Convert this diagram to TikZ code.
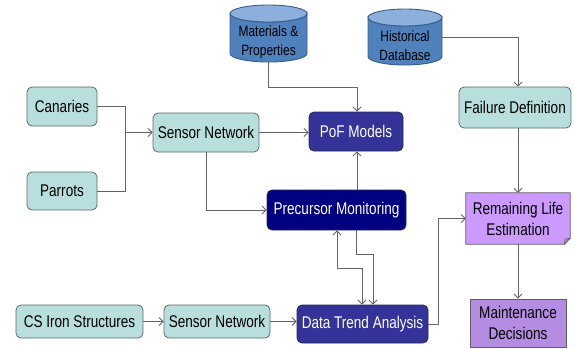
\documentclass[tikz,border=0pt]{standalone}
\usepackage{fontspec}
\setmainfont{Liberation Sans}[FakeStretch=0.8]
\usetikzlibrary{arrows.meta,backgrounds}

\definecolor{boxteal}{RGB}{184,222,222}
\definecolor{boxedge}{RGB}{95,105,105}
\definecolor{pofblue}{RGB}{51,51,153}
\definecolor{precnavy}{RGB}{0,0,128}
\definecolor{bluedge}{RGB}{40,40,90}
\definecolor{rlefill}{RGB}{204,153,255}
\definecolor{mdfill}{RGB}{180,140,225}
\definecolor{purpedge}{RGB}{100,90,110}
\definecolor{cylbody}{RGB}{79,129,189}
\definecolor{cyltop}{RGB}{140,175,220}
\definecolor{cyledge}{RGB}{56,93,138}
\definecolor{linegray}{RGB}{100,100,100}

% database drum: left, right, top, bottom, end-ellipse half height
\newcommand{\drum}[5]{%
  \pgfmathsetmacro{\drx}{(#2-#1)/2}%
  \pgfmathsetmacro{\dcx}{(#2+#1)/2}%
  \path[draw=cyledge, fill=cylbody, line width=0.9bp]
    (#1,#3+#5) -- (#1,#4-#5)
    arc[start angle=180, end angle=0, x radius=\drx, y radius=#5]
    -- (#2,#3+#5)
    arc[start angle=0, end angle=180, x radius=\drx, y radius=#5] -- cycle;
  \path[draw=cyledge, fill=cyltop, line width=0.9bp]
    (\dcx,#3+#5) ellipse[x radius=\drx, y radius=#5];
}

\begin{document}
\begin{tikzpicture}[x=1bp, y=-1bp,
  every node/.style={font=\fontsize{17}{21}\selectfont, inner sep=0pt, align=center},
  lightbox/.style={draw=boxedge, fill=boxteal, rounded corners=5bp, line width=0.8bp},
  bluebox/.style={draw=bluedge, fill=pofblue, text=white, rounded corners=5bp, line width=0.8bp},
  navybox/.style={draw=bluedge, fill=precnavy, text=white, rounded corners=5bp, line width=0.8bp},
  drumtext/.style={font=\fontsize{15}{19}\selectfont},
  conn/.style={draw=linegray, line width=0.9bp},
  arr/.style={conn, -{Straight Barb[length=4bp,width=8bp]}},
  biarr/.style={conn, {Straight Barb[length=4bp,width=8bp]}-{Straight Barb[length=4bp,width=8bp]}},
]
\useasboundingbox (0,0) rectangle (575,348);

% data sources
\drum{230}{307}{5}{62}{8.5}
\drum{368}{442}{9}{65}{8.5}
\node[drumtext, minimum width=77bp, minimum height=39bp] (mat) at (268.5,42.5) {Materials \&\\Properties};
\node[drumtext, minimum width=74bp, minimum height=39bp] (hist) at (405,45.5) {Historical\\Database};
\coordinate (hout) at (442,37);

% upper sensing chain
\node[lightbox, minimum width=70bp, minimum height=39bp] (can) at (62,106.5) {Canaries};
\node[lightbox, minimum width=70bp, minimum height=38bp] (par) at (62,191) {Parrots};
\node[lightbox, minimum width=106bp, minimum height=39bp] (sn1) at (206,132.5) {Sensor Network};
\node[bluebox, minimum width=94bp, minimum height=39bp] (pof) at (356,131.5) {PoF Models};
\node[navybox, minimum width=139bp, minimum height=40bp] (prec) at (336.5,210) {Precursor Monitoring};

% lower sensing chain
\node[lightbox, minimum width=127bp, minimum height=33bp] (cs) at (79.5,321.5) {CS Iron Structures};
\node[lightbox, minimum width=106bp, minimum height=33bp] (sn2) at (217,321.5) {Sensor Network};
\node[bluebox, minimum width=131bp, minimum height=38bp] (dta) at (362.5,324) {Data Trend Analysis};

% prognostics column
\node[lightbox, minimum width=112bp, minimum height=41bp] (fd) at (515,107.5) {Failure Definition};
\node[minimum width=104bp, minimum height=51bp] (rle) at (518,218.5) {Remaining Life\\Estimation};
\node[draw=purpedge, fill=mdfill, line width=0.8bp, minimum width=96bp, minimum height=48bp] (md) at (518,323) {Maintenance\\Decisions};
\begin{scope}[on background layer]
  \path[draw=purpedge, fill=rlefill, line width=0.8bp]
    (rle.north west) -- (rle.north east) -- ([yshift=6bp]rle.south east)
    -- ([xshift=-6bp]rle.south east) -- (rle.south west) -- cycle;
  \path[draw=purpedge, fill=purpedge!60, line width=0.6bp]
    ([yshift=6bp]rle.south east) -- ([xshift=-6bp]rle.south east)
    -- ([xshift=-5bp,yshift=5bp]rle.south east) -- cycle;
\end{scope}

% connectors
\coordinate (j1) at (125,132.5);
\draw[conn] (can.east) -| (j1);
\draw[conn] (par.east) -| (j1);
\draw[arr] (j1) -- (sn1.west);
\draw[arr] (sn1.east) -- (pof.west |- sn1.east);

\coordinate (m1) at (268.5,87);
\coordinate (m2) at (357,87);
\draw[arr] (mat.south) -- (m1) -- (m2) -- (m2 |- pof.north);

\coordinate (f1) at (518,37);
\draw[arr] (hout) -- (f1) -- (f1 |- fd.north);
\draw[arr] (f1 |- fd.south) -- (rle.north);
\draw[arr] (rle.south) -- (md.north);

\draw[arr] (m2 |- prec.north) -- (m2 |- pof.south);
\draw[arr] (sn1.south) |- (prec.west);

\draw[arr] (cs.east) -- (sn2.west);
\draw[arr] (sn2.east) -- (dta.west |- sn2.east);

\coordinate (r1) at (438,324);
\draw[arr] (dta.east |- r1) -- (r1) |- (rle.west);

% feedback between monitoring and trend analysis
\coordinate (a1) at (337,268);
\coordinate (a2) at (362,268);
\draw[biarr] (a1 |- prec.south) -- (a1) -- (a2) -- (a2 |- dta.north);
\coordinate (b1) at (356,254);
\coordinate (b2) at (373,254);
\draw[arr] (b1 |- prec.south) -- (b1) -- (b2) -- (b2 |- dta.north);
\end{tikzpicture}
\end{document}
